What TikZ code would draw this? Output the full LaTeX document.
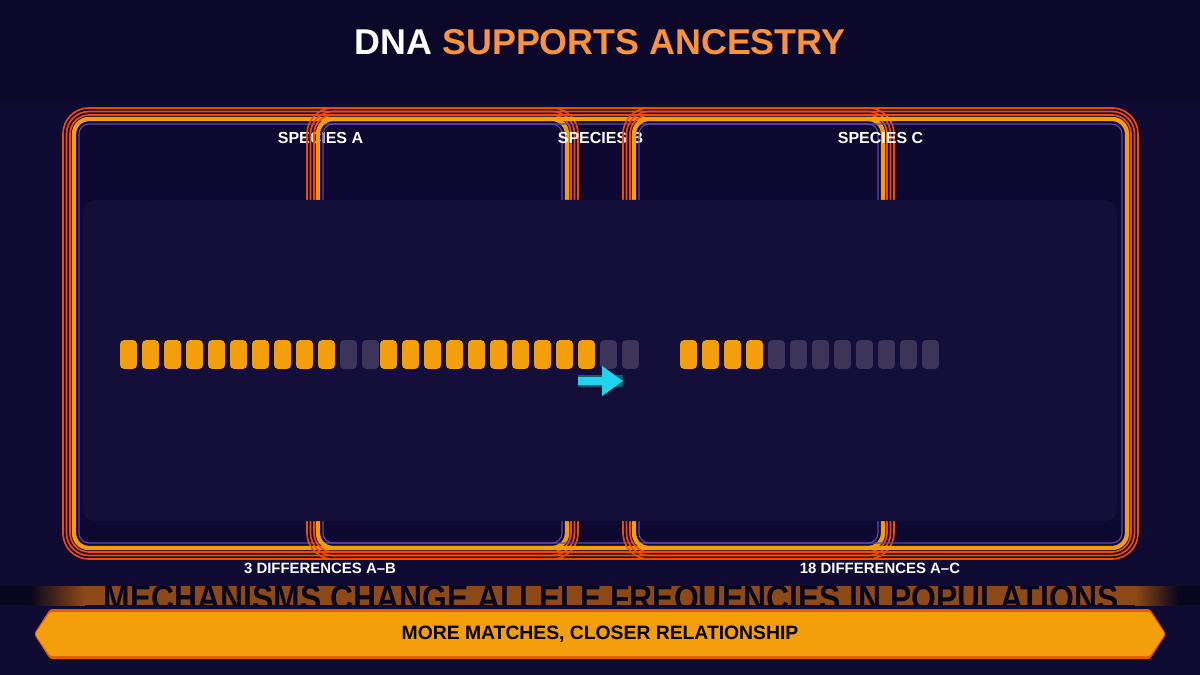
\documentclass[tikz,border=0pt]{standalone}
\usepackage{fontspec}
\setmainfont{Liberation Sans}
\usetikzlibrary{arrows.meta}
\definecolor{night}{HTML}{0B0829}
\definecolor{deep}{HTML}{100B33}
\definecolor{cardbg}{HTML}{0E0930}
\definecolor{panelbg}{HTML}{130F39}
\definecolor{ember}{HTML}{F2480A}
\definecolor{amber}{HTML}{F59E0B}
\definecolor{violet}{HTML}{6247B0}
\definecolor{titleorange}{HTML}{FB923C}
\definecolor{slot}{HTML}{3C3459}
\definecolor{aqua}{HTML}{22D3EE}
\definecolor{aquadark}{HTML}{0F5E72}
\definecolor{rust}{HTML}{8E4A16}
\definecolor{stripdark}{HTML}{08061C}
\definecolor{bannerrim}{HTML}{E8590C}
\tikzset{
  % one pixel of the 1200x675 frame is 0.02cm, y runs downwards
  matchbar/.style={fill=amber, rounded corners=2.3pt, minimum width=9.64pt,
    minimum height=16.44pt, inner sep=0pt},
  slotbar/.style={matchbar, fill=slot},
  species/.style={text=white, font=\fontsize{9.1pt}{11pt}\selectfont\bfseries},
  difflabel/.style={text=white, font=\fontsize{8.5pt}{10pt}\selectfont\bfseries},
  pointer/.style={aqua, line width=4pt, -{Triangle[length=11.9pt,width=16.4pt]}}
}

\begin{document}
\begin{tikzpicture}[x=0.02cm, y=-0.02cm]
\useasboundingbox (0,0) rectangle (1200,675);

% Backdrop
\fill[night] (0,0) rectangle (1200,675);
\fill[deep] (0,100) rectangle (1200,675);

\node[text=white, font=\fontsize{20.4pt}{24pt}\selectfont\bfseries] (title) at (600,42)
  {DNA {\color{titleorange}SUPPORTS ANCESTRY}};

% Card fills (drawn first)
\foreach \l/\r in {74/567, 318/883, 634/1127} {
  \fill[cardbg, rounded corners=8.5pt] (\l,119) rectangle (\r,548);
}

% Card frames, each with its heading
\foreach \l/\r/\n in {74/567/A, 318/883/B, 634/1127/C} {
  \foreach \d/\rr in {11/14.7pt, 7.5/12.8pt, 4/10.8pt} {
    \draw[ember, line width=0.95pt, rounded corners=\rr] (\l-\d,119-\d) rectangle (\r+\d,548+\d);
  }
  \draw[amber, line width=2.44pt, rounded corners=8.5pt] (\l,119) rectangle (\r,548);
  \draw[violet, line width=0.65pt, rounded corners=5.7pt] (\l+5,124) rectangle (\r-5,543);
  \node[species] (species\n) at ({(\l+\r)/2},138) {SPECIES \n};
}

% Sequence panel (on top of the frames)
\fill[panelbg, rounded corners=6.8pt] (83,200) rectangle (1117,521);

% Sequences: 12 sites per species
\foreach \row/\x/\hits in {a/128.5/10, b/388.5/10, c/688.5/4} {
  \foreach \i in {1,...,12} {
    \ifnum\i>\hits \def\kind{slotbar}\else\def\kind{matchbar}\fi
    \node[\kind] (\row\i) at ({\x+22*(\i-1)},354.5) {};
  }
}

% Arrow
\coordinate (arrowtail) at (578,381);
\coordinate (arrowtip) at (623,381);
\draw[aquadark, line width=6.6pt] (arrowtail) -- (arrowtip);
\draw[pointer] (arrowtail) -- (arrowtip);

\node[difflabel] (diffAB) at (320,568) {3 DIFFERENCES A--B};
\node[difflabel] (diffAC) at (880,568) {18 DIFFERENCES A--C};

% Brushed strip behind the banner
\fill[stripdark] (0,586) rectangle (1200,605);
\shade[left color=stripdark, right color=rust] (30,586) rectangle (85,605);
\fill[rust] (85,586) rectangle (1135,605);
\shade[left color=rust, right color=stripdark] (1135,586) rectangle (1178,605);
\begin{scope}
  \clip (0,586) rectangle (1200,605);
  \node[anchor=base, text=stripdark, inner sep=0pt, text depth=0pt,
    font=\fontsize{20.4pt}{22pt}\selectfont\bfseries] (strip) at (611,610)
    {\scalebox{0.89}[1]{MECHANISMS CHANGE ALLELE FREQUENCIES IN POPULATIONS}};
\end{scope}

% Banner
\fill[bannerrim, rounded corners=1.5pt] (50,609) -- (1150,609) -- (1166,634)
  -- (1150,659) -- (50,659) -- (34,634) -- cycle;
\fill[amber, rounded corners=1.5pt] (50,612) -- (1150,612) -- (1165,634)
  -- (1150,656) -- (50,656) -- (35,634) -- cycle;
\node[text=black, font=\fontsize{11pt}{13pt}\selectfont\bfseries] (verdict) at (600,634)
  {MORE MATCHES, CLOSER RELATIONSHIP};

\end{tikzpicture}
\end{document}
